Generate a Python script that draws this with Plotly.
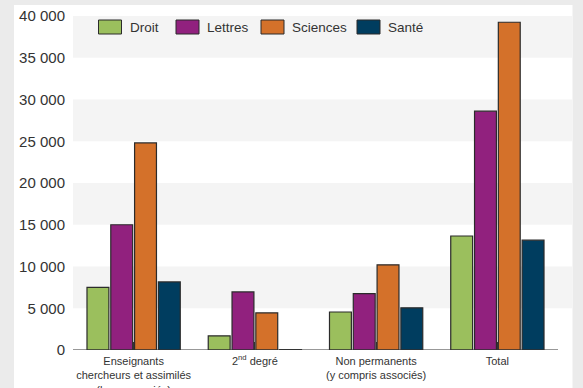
import plotly.graph_objects as go

# Effectifs par groupe de disciplines
categories = [
    "Enseignants<br>chercheurs et assimilés<br>(hors associés)",
    "2<sup>nd</sup> degré",
    "Non permanents<br>(y compris associés)",
    "Total",
]
series_names = ["Droit", "Lettres", "Sciences", "Santé"]
droit = [7500, 1700, 4550, 13650]
lettres = [15000, 6950, 6750, 28600]
sciences = [24800, 4450, 10200, 39250]
sante = [8150, 40, 5050, 13150]
series_values = [droit, lettres, sciences, sante]
colors = ["#9bbf5d", "#91217e", "#d4712a", "#003d5f"]

y_ticks = list(range(0, 40001, 5000))
y_tick_labels = [f"{v:,}".replace(",", " ") for v in y_ticks]

FONT = "Liberation Sans, Arial, sans-serif"
W, H = 583, 388
L, R, T, B = 73, 11, 16, 38   # plot area: x 73..572, y 16..350
plot_w = W - L - R
plot_h = H - T - B
cat_w = 121.25  # pixel width of one category slot

fig = go.Figure()
for name, vals, col in zip(series_names, series_values, colors):
    fig.add_trace(go.Bar(
        x=list(range(len(categories))), y=vals, name=name,
        marker=dict(color=col, line=dict(color="#2b2b2b", width=1.2)),
        showlegend=False,
    ))

def px_x(px):
    return (px - L) / plot_w

def px_y(py):
    return (H - B - py) / plot_h

shapes = [
    # white panel on grey page
    dict(type="rect", xref="paper", yref="paper", layer="below",
         x0=px_x(14), x1=px_x(572.5), y0=px_y(400), y1=px_y(5),
         fillcolor="white", line=dict(width=0)),
]
# alternating horizontal bands
for lo in range(5000, 40000, 10000):
    shapes.append(dict(type="rect", xref="paper", yref="y", layer="below",
                       x0=0, x1=1, y0=lo, y1=lo + 5000,
                       fillcolor="#f4f4f4", line=dict(width=0)))
# category baseline
shapes.append(dict(type="line", xref="x", yref="y",
                   x0=-0.5, x1=len(categories) - 0.5, y0=0, y1=0,
                   line=dict(color="#333333", width=1.2)))

# legend drawn as swatches + labels
annotations = []
legend_x = [98.5, 176, 261, 357]
for i, (name, col) in enumerate(zip(series_names, colors)):
    x0 = legend_x[i]
    shapes.append(dict(type="rect", xref="paper", yref="paper",
                       x0=px_x(x0), x1=px_x(x0 + 23), y0=px_y(34), y1=px_y(20),
                       fillcolor=col, line=dict(color="#2b2b2b", width=1)))
    annotations.append(dict(xref="paper", yref="paper", x=px_x(x0 + 30), y=px_y(27.5),
                            text=name, showarrow=False, xanchor="left", yanchor="middle",
                            xshift=-1,
                            font=dict(family=FONT, size=13.5, color="#333333")))

fig.update_layout(
    width=W, height=H,
    margin=dict(l=L, r=R, t=T, b=B, autoexpand=False),
    paper_bgcolor="#ebebeb",
    plot_bgcolor="rgba(0,0,0,0)",
    barmode="group", bargap=0.215, bargroupgap=0.08,
    shapes=shapes, annotations=annotations,
    showlegend=False,
    font=dict(family=FONT, color="#333333"),
)
fig.update_xaxes(
    range=[-0.5, -0.5 + plot_w / cat_w],
    tickmode="array", tickvals=list(range(len(categories))), ticktext=categories,
    ticks="inside", tickson="boundaries", ticklen=8, tickcolor="#333333", tickwidth=1.2,
    showgrid=False, showline=False, zeroline=False, automargin=False,
    ticklabelstandoff=3,
    tickfont=dict(family=FONT, size=11, color="#333333"),
)
fig.update_yaxes(
    range=[0, 40000], tickmode="array", tickvals=y_ticks, ticktext=y_tick_labels,
    showgrid=False, showline=False, zeroline=False, ticks="", automargin=False,
    ticklabelstandoff=7,
    tickfont=dict(family=FONT, size=15, color="#333333"),
)

fig.write_html("out.html")
